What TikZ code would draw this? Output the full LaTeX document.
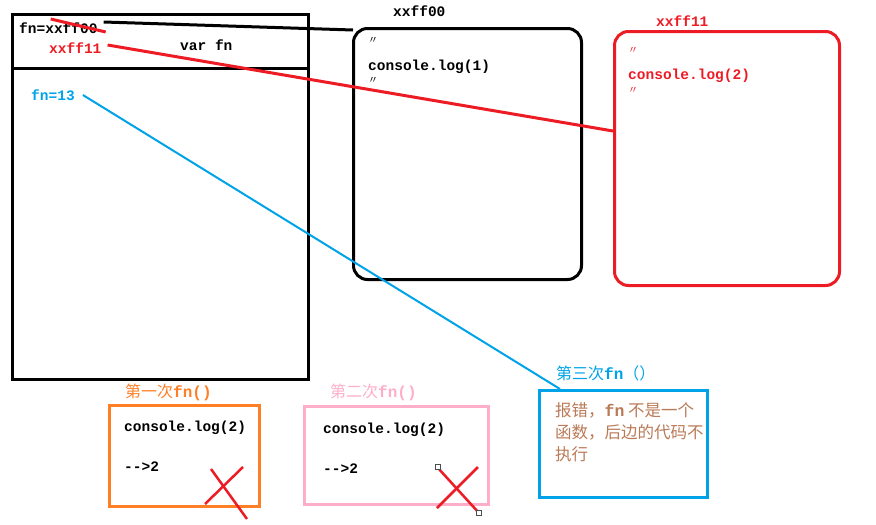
\documentclass[tikz,border=0pt]{standalone}
\usepackage{fontspec}
\setmonofont{Liberation Mono}
\newfontfamily\cjk{Noto Sans CJK SC}
\usepackage{tikz}
\usetikzlibrary{positioning}
\definecolor{PaintRed}{HTML}{ED1C24}
\definecolor{PaintBlue}{HTML}{00A2E8}
\definecolor{PaintOrange}{HTML}{FF7F27}
\definecolor{PaintPink}{HTML}{FFAEC9}
\definecolor{PaintBrown}{HTML}{B97A57}
\tikzset{
  framebox/.style={draw, line width=3pt, anchor=north west, inner sep=0pt},
  heapbox/.style={draw, line width=3pt, rounded corners=14pt, anchor=north west, inner sep=0pt},
  callbox/.style={draw, line width=3pt, anchor=north west, inner sep=0pt},
  codetext/.style={font=\ttfamily\bfseries\fontsize{14.5}{17}\selectfont, anchor=west, inner sep=0pt},
  cjktext/.style={font=\cjk\fontsize{16}{19}\selectfont, anchor=west, inner sep=0pt},
  ditto/.style={font=\cjk\fontsize{10}{10}\selectfont, anchor=west, inner sep=0pt},
  link/.style={line width=3pt},
  cross/.style={draw=PaintRed, line width=2.5pt},
  handle/.style={draw=black!70, line width=0.8pt, fill=white, minimum size=5pt, inner sep=0pt}
}

\begin{document}
\begin{tikzpicture}[x=1pt, y=-1pt]
  \useasboundingbox (0,0) rectangle (876,525);

  % stack frame
  \node[framebox, minimum width=296pt, minimum height=365pt] (stack) at (11,13) {};
  \draw[line width=3pt] (11,68) -- (307,68);
  \node[codetext] (fnold) at (19,28) {fn=xxff00};
  \node[codetext, text=PaintRed] (fnnew) at (49,48) {xxff11};
  \node[codetext] (varfn) at (180,45) {var fn};
  \node[codetext, text=PaintBlue] (fnnum) at (31,95) {fn=13};
  \draw[link, draw=PaintRed] ([xshift=-47pt,yshift=9pt]fnold.east) -- ([xshift=8pt,yshift=-4pt]fnold.east);

  % heap objects
  \node[heapbox, minimum width=228pt, minimum height=251pt] (heapA) at (352,27) {};
  \node[codetext] (addrA) at (393,11) {xxff00};
  \node[ditto] (qA1) at (368,40) {〃};
  \node[codetext] (logA) at (368,67) {console.log(1)};
  \node[ditto] (qA2) at (368,80) {〃};

  \node[heapbox, draw=PaintRed, minimum width=225pt, minimum height=254pt] (heapB) at (613,30) {};
  \node[codetext, text=PaintRed] (addrB) at (656,21) {xxff11};
  \node[ditto, text=PaintRed] (qB1) at (628,50) {〃};
  \node[codetext, text=PaintRed] (logB) at (628,76) {console.log(2)};
  \node[ditto, text=PaintRed] (qB2) at (628,90) {〃};
  \coordinate (hitB) at (613,131);

  % calls
  \node[callbox, draw=PaintOrange, minimum width=150pt, minimum height=101pt] (callA) at (108,404) {};
  \node[cjktext, text=PaintOrange] (titleA) at (125,392) {第一次{\ttfamily\bfseries fn()}};
  \node[codetext] (logC1) at (124,428) {console.log(2)};
  \node[codetext] (outC1) at (124,467) {{-}{-}>2};
  \draw[cross] (211,469) -- (247,519);
  \draw[cross] (205,504) -- (243,467);

  \node[callbox, draw=PaintPink, minimum width=184pt, minimum height=98pt] (callB) at (303,405) {};
  \node[cjktext, text=PaintPink] (titleB) at (330,392) {第二次{\ttfamily\bfseries fn()}};
  \node[codetext] (logC2) at (323,430) {console.log(2)};
  \node[codetext] (outC2) at (323,469) {{-}{-}>2};
  \draw[cross] (438,468) -- (479,513);
  \draw[cross] (437,508) -- (478,467);
  \node[handle] (hdl1) at (438,467) {};
  \node[handle] (hdl2) at (479,513) {};

  \node[callbox, draw=PaintBlue, minimum width=168pt, minimum height=107pt] (callC) at (538,389) {};
  \node[cjktext, text=PaintBlue] (titleC) at (556,373) {第三次{\ttfamily\bfseries fn}（）};
  \node[cjktext, text=PaintBrown, anchor=north west, align=left, font=\cjk\fontsize{16.5}{22}\selectfont] (errC) at (555,402)
    {报错，{\ttfamily\bfseries fn} 不是一个\\函数，后边的代码不\\执行};

  % references
  \draw[link] ([xshift=6pt,yshift=6pt]fnold.east) -- ([xshift=1pt,yshift=-3pt]heapA.north west);
  \draw[link, draw=PaintRed] ([xshift=6pt,yshift=3pt]fnnew.east) -- (hitB);
  \draw[line width=2pt, draw=PaintBlue] ([xshift=8pt]fnnum.east) -- ([xshift=22pt]callC.north west);
\end{tikzpicture}
\end{document}
